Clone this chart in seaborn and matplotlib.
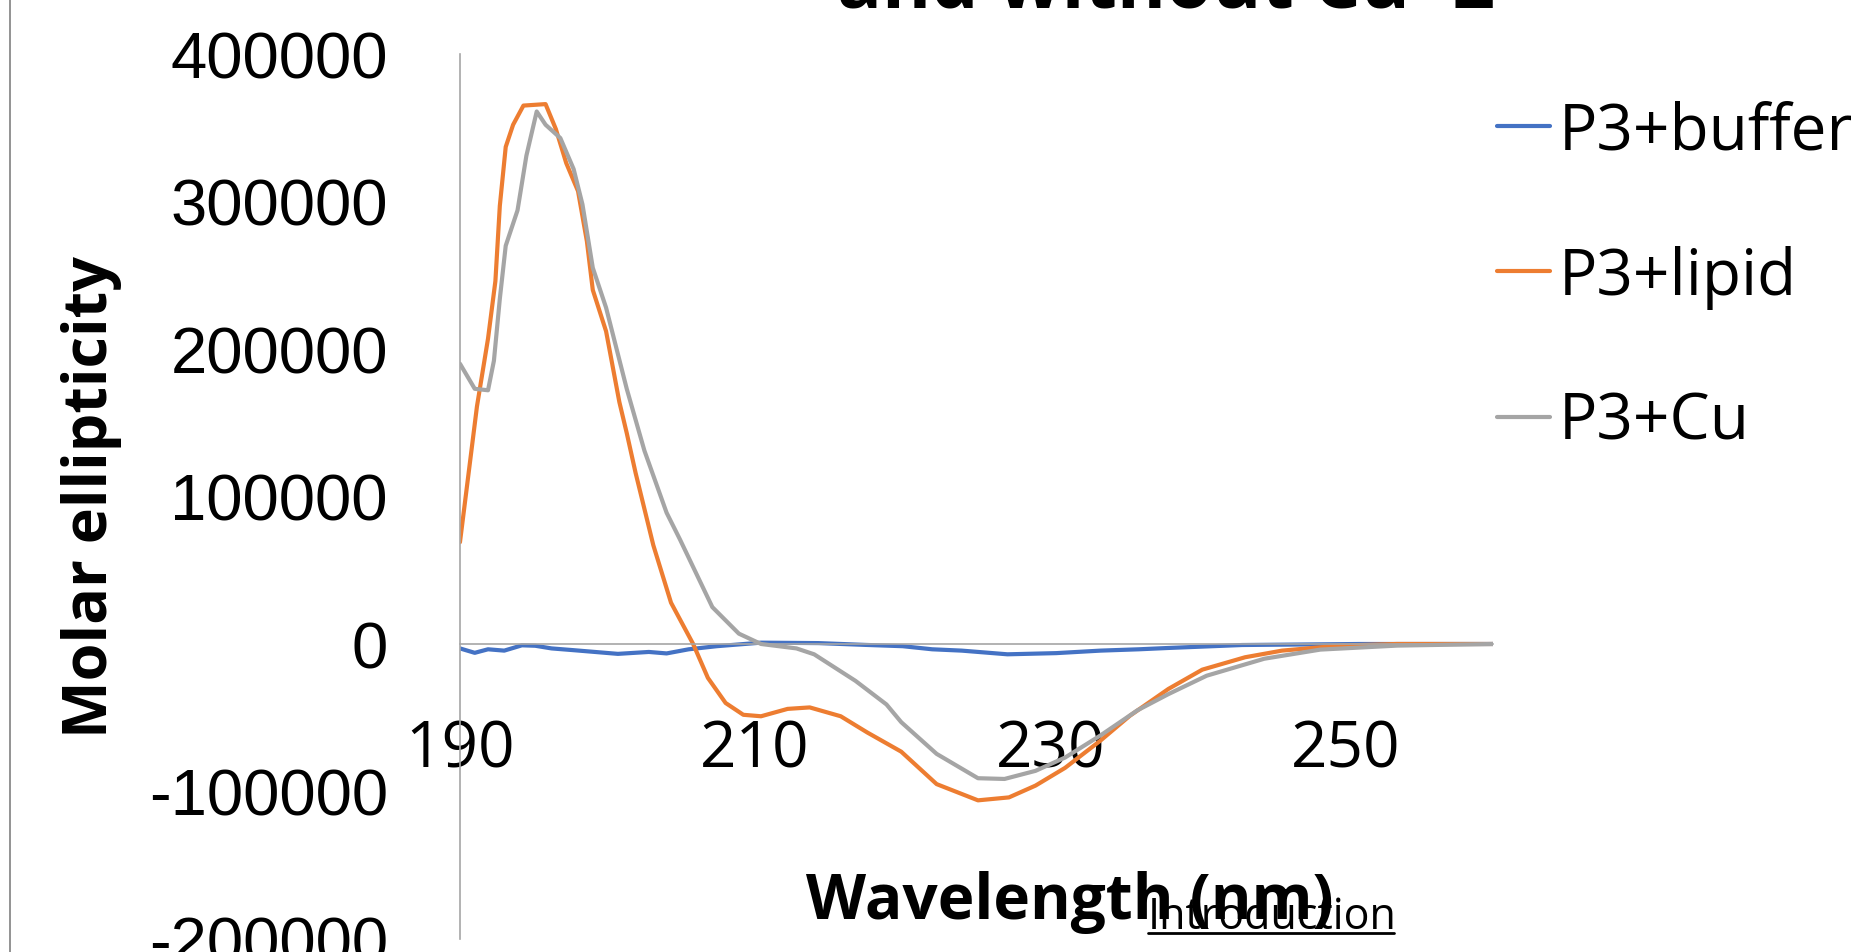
import numpy as np
import pandas as pd
import matplotlib
matplotlib.use("Agg")
import matplotlib.pyplot as plt
from matplotlib.lines import Line2D
import seaborn as sns

# ---- data ----
series_names = ["P3+buffer", "P3+lipid", "P3+Cu"]
series_colors = ["#4472C4", "#ED7D31", "#A5A5A5"]

wl_buffer = [190, 191, 191.9, 193, 194.2, 195.1, 196.2, 197.7, 200.7, 202.8, 204, 205.5, 207.4,
             210.4, 214.3, 217.4, 220, 222, 224, 227.1, 230.4, 233.4, 236, 238, 243, 251, 260]
val_buffer = [-3000, -6000, -3600, -4500, -900, -1200, -3000, -4200, -6700, -5400, -6400, -3600, -1500,
              900, 600, -600, -1500, -3600, -4500, -7000, -6200, -4500, -3600, -2700, -700, 0, 0]

wl_lipid = [190, 191.15, 191.9, 192.4, 192.7, 193.1, 193.6, 194.3, 195.8, 196.5, 197.2, 198.0, 198.6,
            199.0, 199.9, 200.8, 201.3, 201.9, 203.1, 204.3, 205.8, 206.8, 208.0, 209.2, 210.4, 212.2,
            213.7, 215.8, 217.6, 219.9, 222.3, 225.1, 227.2, 229.0, 231.0, 233.4, 235.4, 238.0, 240.3,
            243.2, 245.7, 249.6, 253.5, 260]
val_lipid = [69000, 161000, 207000, 246000, 297000, 337000, 352000, 365000, 366000, 349000, 326000,
             307000, 273000, 240000, 212000, 164000, 143000, 116000, 67000, 28000, 0, -23000, -40000,
             -48000, -49000, -44000, -43000, -49000, -60000, -73000, -95000, -106000, -104000, -96000,
             -84000, -65500, -48600, -30500, -17400, -9000, -4500, -1100, 0, 0]

wl_cu = [190, 191.0, 191.9, 192.3, 192.7, 193.1, 193.9, 194.5, 195.2, 195.8, 196.8, 197.7, 198.3,
         199.0, 199.9, 201.3, 202.5, 204.0, 204.9, 207.1, 208.9, 210.4, 212.8, 214.0, 216.8, 218.9,
         219.9, 222.3, 225.1, 226.9, 229.0, 231.0, 233.4, 235.9, 238.0, 240.6, 244.5, 248.3, 253.5, 260]
val_cu = [190000, 173000, 172000, 192000, 234000, 270000, 294000, 331000, 361000, 352000, 343000,
          322000, 298000, 255000, 228000, 173000, 131000, 89000, 71000, 25000, 7000, 0, -3000, -7000,
          -25000, -41000, -53000, -74500, -91000, -91500, -86000, -77000, -62000, -45000, -34000,
          -21500, -10000, -3800, -1100, 0]

x_ticks = [190, 210, 230, 250]
y_ticks = [-200000, -100000, 0, 100000, 200000, 300000, 400000]
x_label = "Wavelength (nm)"
y_label = "Molar ellipticity"
title_line = "and without Cu+2"
overlay_text = "Introduction"

# ---- build long-form table ----
frames = []
for name, wl, val in zip(series_names, [wl_buffer, wl_lipid, wl_cu], [val_buffer, val_lipid, val_cu]):
    frames.append(pd.DataFrame({"Wavelength": wl, "Ellipticity": val, "Series": name}))
df = pd.concat(frames, ignore_index=True)

sns.set_style("white")
plt.rcParams["font.family"] = ["Open Sans", "DejaVu Sans"]
plt.rcParams["text.color"] = "black"
plt.rcParams["axes.labelcolor"] = "black"
plt.rcParams["xtick.color"] = "black"
plt.rcParams["ytick.color"] = "black"

fig = plt.figure(figsize=(18.51, 9.53), dpi=100)
ax = fig.add_axes([0.2485, 0.01364, 0.5581, 0.9287])

sns.lineplot(data=df, x="Wavelength", y="Ellipticity", hue="Series", hue_order=series_names,
             palette=series_colors, linewidth=3.0, sort=True, estimator=None, ax=ax)

# spines first (moving a spine resets the ticks)
for s in ["top", "right"]:
    ax.spines[s].set_visible(False)
ax.spines["bottom"].set_position(("data", 0))
for s in ["left", "bottom"]:
    ax.spines[s].set_color("#A6A6A6")
    ax.spines[s].set_linewidth(1.2)
ax.grid(False)

ax.set_xlim(190, 260)
ax.set_ylim(-200000, 400000)
ax.set_xticks(x_ticks)
ax.set_yticks(y_ticks)
ax.set_xticklabels([str(t) for t in x_ticks], fontsize=46, family="Open Sans", color="black")
ax.set_yticklabels([str(t) for t in y_ticks], fontsize=47, family="Liberation Sans", color="black")
ax.tick_params(axis="x", length=0, pad=53)
ax.tick_params(axis="y", length=0, pad=52)

ax.set_xlabel(x_label, fontsize=44.7, fontweight="bold", family="Open Sans", color="black")
ax.xaxis.set_label_coords(0.5905, 0.078)
ax.set_ylabel(y_label, fontsize=44, fontweight="bold", family="Open Sans", color="black",
              rotation=90, va="center", ha="center")
ax.yaxis.set_label_coords(-0.357, 0.5006)

sns.move_legend(ax, "upper left", bbox_to_anchor=(0.8088, 0.895), bbox_transform=fig.transFigure,
                frameon=False, title=None, fontsize=46, handlelength=0.83, handletextpad=0.14,
                labelspacing=1.275, borderpad=0, borderaxespad=0, labelcolor="black")

# cut-off title line at the top
fig.text(1166 / 1851, 1 - 8 / 953, title_line, ha="center", va="baseline", fontsize=53.7,
         fontweight="bold", family="Open Sans", color="black")

# overlay text with underline
fig.text(1148 / 1851, 1 - 929 / 953, overlay_text, ha="left", va="baseline", fontsize=31,
         color="black", family="Open Sans")
fig.add_artist(Line2D([1148 / 1851, 1394 / 1851], [1 - 934 / 953, 1 - 934 / 953],
                      transform=fig.transFigure, color="black", linewidth=2))

# frame line at the left edge
fig.add_artist(Line2D([10 / 1851, 10 / 1851], [0, 1], transform=fig.transFigure,
                      color="#808080", linewidth=1.2))

fig.savefig("out.png", dpi=100)
